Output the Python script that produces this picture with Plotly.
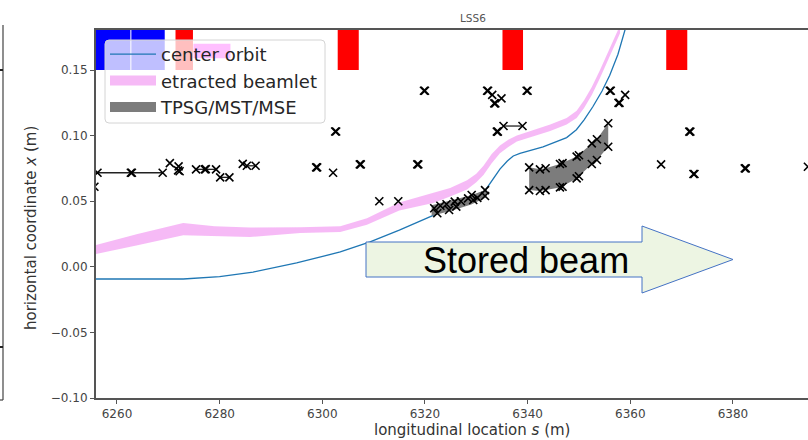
import plotly.graph_objects as go

W, H = 808, 440
ML, MR, MT, MB = 96, 0, 30, 42

# ---------------- data ----------------
orbit_s = [6255.9, 6264.0, 6272.9, 6280.0, 6286.5, 6295.0, 6303.5, 6309.3, 6315.0, 6321.5, 6326.5,
           6331.7, 6333.2, 6334.6, 6336.0, 6337.2, 6338.5, 6339.8, 6343.0, 6347.6, 6349.5, 6351.0,
           6352.7, 6354.5, 6356.0, 6357.6, 6359.0]
orbit_x = [-0.0093, -0.0093, -0.0093, -0.0075, -0.004, 0.003, 0.0113, 0.019, 0.028, 0.039, 0.048,
           0.058, 0.0665, 0.0745, 0.0805, 0.0845, 0.0865, 0.0880, 0.0915, 0.0985, 0.1045, 0.112,
           0.122, 0.134, 0.146, 0.162, 0.181]

beam_s = [6255.9, 6264.0, 6272.9, 6279.0, 6285.9, 6295.7, 6303.5, 6308.7, 6315.0, 6321.6, 6324.9,
          6328.2, 6330.0, 6331.4, 6333.0, 6334.6, 6336.3, 6337.9, 6339.8, 6342.0, 6344.4, 6347.6,
          6349.55, 6351.0, 6352.5, 6354.1, 6356.0, 6358.0]
beam_hi = [0.0166, 0.025, 0.0334, 0.031, 0.030, 0.0302, 0.031, 0.037, 0.049, 0.056, 0.060,
           0.066, 0.071, 0.077, 0.086, 0.0925, 0.097, 0.1, 0.1025, 0.1055, 0.1085, 0.1135,
           0.119, 0.127, 0.137, 0.150, 0.166, 0.184]
beam_lo = [0.0098, 0.0165, 0.024, 0.0235, 0.0227, 0.0257, 0.0265, 0.032, 0.043, 0.0486, 0.0535,
           0.059, 0.0645, 0.070, 0.079, 0.0865, 0.0915, 0.0955, 0.098, 0.1005, 0.1035, 0.1085,
           0.1135, 0.121, 0.131, 0.144, 0.160, 0.178]

tpsg_s = [6321.3, 6325.0, 6329.0, 6332.0]
tpsg_hi = [0.047, 0.0505, 0.0545, 0.059]
tpsg_lo = [0.039, 0.0425, 0.0475, 0.053]

mst_s = [6340.3, 6342.4, 6343.5, 6346.3, 6349.55, 6352.5, 6353.5, 6355.7]
mst_hi = [0.0758, 0.0743, 0.0751, 0.0784, 0.0840, 0.0941, 0.0972, 0.1094]
mst_lo = [0.0585, 0.0578, 0.0585, 0.0605, 0.0674, 0.0784, 0.0814, 0.0915]

aper_s = [6256.2, 6262.7, 6262.9, 6268.9, 6255.6, 6270.3, 6272.0, 6272.2, 6271.9,
          6275.4, 6277.1, 6277.3, 6279.3, 6280.1, 6281.9, 6284.5, 6285.3, 6287.0,
          6298.8, 6299.0, 6302.1, 6302.5, 6302.7, 6307.3, 6307.5, 6311.1, 6314.8, 6318.5, 6318.7,
          6319.8, 6320.0, 6332.1, 6332.3, 6333.1, 6333.5, 6333.7, 6334.9, 6334.0, 6334.2, 6335.3, 6339.0,
          6339.8, 6340.0,
          6321.8, 6322.4, 6323.0, 6324.2, 6324.7, 6325.8, 6326.1, 6327.0, 6328.4, 6329.1, 6329.4,
          6330.2, 6331.7, 6331.7,
          6356.0, 6356.2, 6359.0, 6357.7, 6357.9, 6371.5, 6371.7, 6366.0, 6372.3, 6372.5, 6382.3, 6382.5, 6394.6]
aper_x = [0.0717, 0.0717, 0.0717, 0.0717, 0.061, 0.0790, 0.0765, 0.0728, 0.0735,
          0.0743, 0.0743, 0.0745, 0.0743, 0.0682, 0.0682, 0.0785, 0.0770, 0.0770,
          0.0758, 0.0758, 0.0717, 0.1031, 0.1031, 0.0781, 0.0781, 0.050, 0.050, 0.0781, 0.0781,
          0.1342, 0.1342, 0.1342, 0.1342, 0.131, 0.1246, 0.1246, 0.1284, 0.103, 0.103, 0.1073, 0.1073,
          0.1342, 0.1342,
          0.0446, 0.0408, 0.0465, 0.0477, 0.0433, 0.0497, 0.0459, 0.0500, 0.0522, 0.0547, 0.0509,
          0.0525, 0.0585, 0.0540,
          0.1342, 0.1342, 0.131, 0.125, 0.125, 0.103, 0.103, 0.0781, 0.0707, 0.0707, 0.075, 0.075, 0.0763]

# markers at the MST/MSE contour points
mst_mark_s = [6340.3, 6342.4, 6343.5, 6346.3, 6346.8, 6349.55, 6350.0, 6352.5, 6353.5, 6355.7]
mst_mark_hi = [0.0758, 0.0743, 0.0751, 0.0784, 0.0790, 0.0840, 0.0850, 0.0941, 0.0972, 0.1094]
mst_mark_lo = [0.0585, 0.0578, 0.0585, 0.0605, 0.0610, 0.0674, 0.0690, 0.0784, 0.0814, 0.0915]

bar_s0 = [6256.2, 6275.4, 6280.1, 6285.3, 6335.3]
bar_s1 = [6268.9, 6279.3, 6281.9, 6287.0, 6339.0]
bar_x = [0.0717, 0.0743, 0.0682, 0.0770, 0.1073]

dip_s0 = [6250.0, 6262.8]
dip_s1 = [6262.6, 6269.3]
quad_s0 = [6271.4, 6303.0, 6335.1, 6367.0]
quad_s1 = [6274.8, 6307.1, 6339.1, 6371.1]
sext_s0 = [6274.9]
sext_s1 = [6282.1]

x_ticks = [6260, 6280, 6300, 6320, 6340, 6360, 6380]
y_ticks = [-0.10, -0.05, 0.00, 0.05, 0.10, 0.15]
y_ticklabels = ["\u22120.10", "\u22120.05", "0.00", "0.05", "0.10", "0.15"]

X_RANGE = [6255.91, 6394.62]
Y_RANGE = [-0.10, 0.1805]

# ---------------- helpers (pixel -> paper) ----------------
PW = W - ML - MR
PH = H - MT - MB


def px(xp):
    return (xp - ML) / PW


def py(yp):
    return (H - MB - yp) / PH


FONT = "DejaVu Sans"
AX = "#555555"
PINK = "rgba(238,130,238,0.55)"
GRAY = "#7c7c7c"

fig = go.Figure()

fig.add_trace(go.Scatter(x=orbit_s, y=orbit_x, mode="lines", name="center orbit",
                         line=dict(color="#1f77b4", width=1.3), legendgroup="a"))
fig.add_trace(go.Scatter(x=beam_s + beam_s[::-1], y=beam_hi + beam_lo[::-1], mode="lines",
                         fill="toself", fillcolor=PINK, line=dict(width=0, color=PINK),
                         name="etracted beamlet", showlegend=False, hoverinfo="skip"))
gs = tpsg_s + tpsg_s[::-1] + [None] + mst_s + mst_s[::-1]
gx = tpsg_hi + tpsg_lo[::-1] + [None] + mst_hi + mst_lo[::-1]
fig.add_trace(go.Scatter(x=gs, y=gx, mode="lines", fill="toself", fillcolor=GRAY,
                         line=dict(width=0, color=GRAY), name="TPSG/MST/MSE", showlegend=False,
                         hoverinfo="skip"))
# legend-only entries (patch style)
fig.add_trace(go.Scatter(x=[None], y=[None], mode="lines", name="etracted beamlet",
                         line=dict(color="rgba(246,186,246,1)", width=12), legendgroup="b"))
fig.add_trace(go.Scatter(x=[None], y=[None], mode="lines", name="TPSG/MST/MSE",
                         line=dict(color=GRAY, width=12), legendgroup="c"))

bs, bx = [], []
for a, b, c in zip(bar_s0, bar_s1, bar_x):
    bs += [a, b, None]
    bx += [c, c, None]
fig.add_trace(go.Scatter(x=bs, y=bx, mode="lines", line=dict(color="#222222", width=1.3),
                         showlegend=False, hoverinfo="skip"))
all_s = aper_s + mst_mark_s + mst_mark_s
all_x = aper_x + mst_mark_hi + mst_mark_lo
fig.add_trace(go.Scatter(x=all_s, y=all_x, mode="markers", showlegend=False,
                         marker=dict(symbol="x-thin", size=8, color="black",
                                     line=dict(color="black", width=1.6))))

shapes = []
for a, b in zip(dip_s0, dip_s1):
    shapes.append(dict(type="rect", xref="x", yref="y", x0=a, x1=b, y0=0.15, y1=0.19,
                       fillcolor="#0000ff", line=dict(width=0), layer="below"))
for a, b in zip(quad_s0, quad_s1):
    shapes.append(dict(type="rect", xref="x", yref="y", x0=a, x1=b, y0=0.15, y1=0.19,
                       fillcolor="#ff0000", line=dict(width=0), layer="below"))
for a, b in zip(sext_s0, sext_s1):
    shapes.append(dict(type="rect", xref="x", yref="y", x0=a, x1=b, y0=0.159, y1=0.170,
                       fillcolor="#ff00ff", line=dict(width=0), layer="below"))

# legend frame (rounded, semi-transparent)
lx0, lx1, ly0, ly1, r = 105, 325, 40, 123, 4
lpath = (f"M{px(lx0 + r)},{py(ly0)} L{px(lx1 - r)},{py(ly0)} Q{px(lx1)},{py(ly0)} {px(lx1)},{py(ly0 + r)} "
         f"L{px(lx1)},{py(ly1 - r)} Q{px(lx1)},{py(ly1)} {px(lx1 - r)},{py(ly1)} "
         f"L{px(lx0 + r)},{py(ly1)} Q{px(lx0)},{py(ly1)} {px(lx0)},{py(ly1 - r)} "
         f"L{px(lx0)},{py(ly0 + r)} Q{px(lx0)},{py(ly0)} {px(lx0 + r)},{py(ly0)} Z")
shapes.append(dict(type="path", xref="paper", yref="paper", path=lpath,
                   fillcolor="rgba(255,255,255,0.75)", line=dict(color="#d4d4d4", width=1), layer="above"))

# arrow overlay
ax0, ax1, ax2 = 366, 642, 733
ay_top, ay_bot, ah_top, ah_bot, ay_mid = 242, 277, 226, 293, 259.5
path = (f"M{px(ax0)},{py(ay_top)} L{px(ax1)},{py(ay_top)} L{px(ax1)},{py(ah_top)} "
        f"L{px(ax2)},{py(ay_mid)} L{px(ax1)},{py(ah_bot)} L{px(ax1)},{py(ay_bot)} "
        f"L{px(ax0)},{py(ay_bot)} Z")
shapes.append(dict(type="path", xref="paper", yref="paper", path=path,
                   fillcolor="#edf5e3", line=dict(color="#4472c4", width=1), layer="above"))
# left-edge remnant of neighbouring panel
shapes.append(dict(type="line", xref="paper", yref="paper", x0=px(3), x1=px(3), y0=py(25), y1=py(400),
                   line=dict(color="#444444", width=1.2)))
shapes.append(dict(type="line", xref="paper", yref="paper", x0=px(0), x1=px(3), y0=py(400), y1=py(400),
                   line=dict(color="#444444", width=1.2)))
for yy in (70, 347):
    shapes.append(dict(type="line", xref="paper", yref="paper", x0=px(0), x1=px(3), y0=py(yy), y1=py(yy),
                       line=dict(color="#222222", width=2)))

annotations = [
    dict(text="Stored beam", xref="paper", yref="paper", x=px(526), y=py(260), showarrow=False,
         font=dict(family="Liberation Sans", size=36, color="black"), xanchor="center", yanchor="middle"),
    dict(text="LSS6", xref="paper", yref="paper", x=px(473), y=py(18), showarrow=False,
         font=dict(family=FONT, size=10.5, color="#555555"), xanchor="center", yanchor="middle"),
    dict(text="longitudinal location <i>s</i> (m)", xref="paper", yref="paper", x=px(472), y=py(430),
         showarrow=False, font=dict(family=FONT, size=15, color="#333333"), xanchor="center", yanchor="middle"),
    dict(text="horizontal coordinate <i>x</i> (m)", xref="paper", yref="paper", x=px(31), y=py(228),
         showarrow=False, textangle=-90, font=dict(family=FONT, size=15, color="#333333"),
         xanchor="center", yanchor="middle"),
]

fig.update_layout(
    width=W, height=H, margin=dict(l=ML, r=MR, t=MT, b=MB),
    paper_bgcolor="white", plot_bgcolor="white",
    shapes=shapes, annotations=annotations,
    showlegend=True,
    legend=dict(x=px(105), y=py(36), xanchor="left", yanchor="top",
                bgcolor="rgba(0,0,0,0)", borderwidth=0,
                font=dict(family=FONT, size=18, color="#262626"), itemwidth=46,
                tracegroupgap=5, traceorder="normal"),
    xaxis=dict(range=X_RANGE, tickvals=x_ticks, ticks="outside", ticklen=4, tickwidth=1.2,
               tickcolor=AX, showline=True, linecolor=AX, linewidth=2, mirror=True,
               showgrid=False, zeroline=False,
               tickfont=dict(family=FONT, size=12, color="#444444")),
    yaxis=dict(range=Y_RANGE, tickvals=y_ticks, ticktext=y_ticklabels, ticks="outside", ticklen=4,
               tickwidth=1.2, tickcolor=AX, showline=True, linecolor=AX, linewidth=2, mirror=False,
               showgrid=False, zeroline=False,
               tickfont=dict(family=FONT, size=12, color="#444444")),
)

fig.write_html("out.html")
